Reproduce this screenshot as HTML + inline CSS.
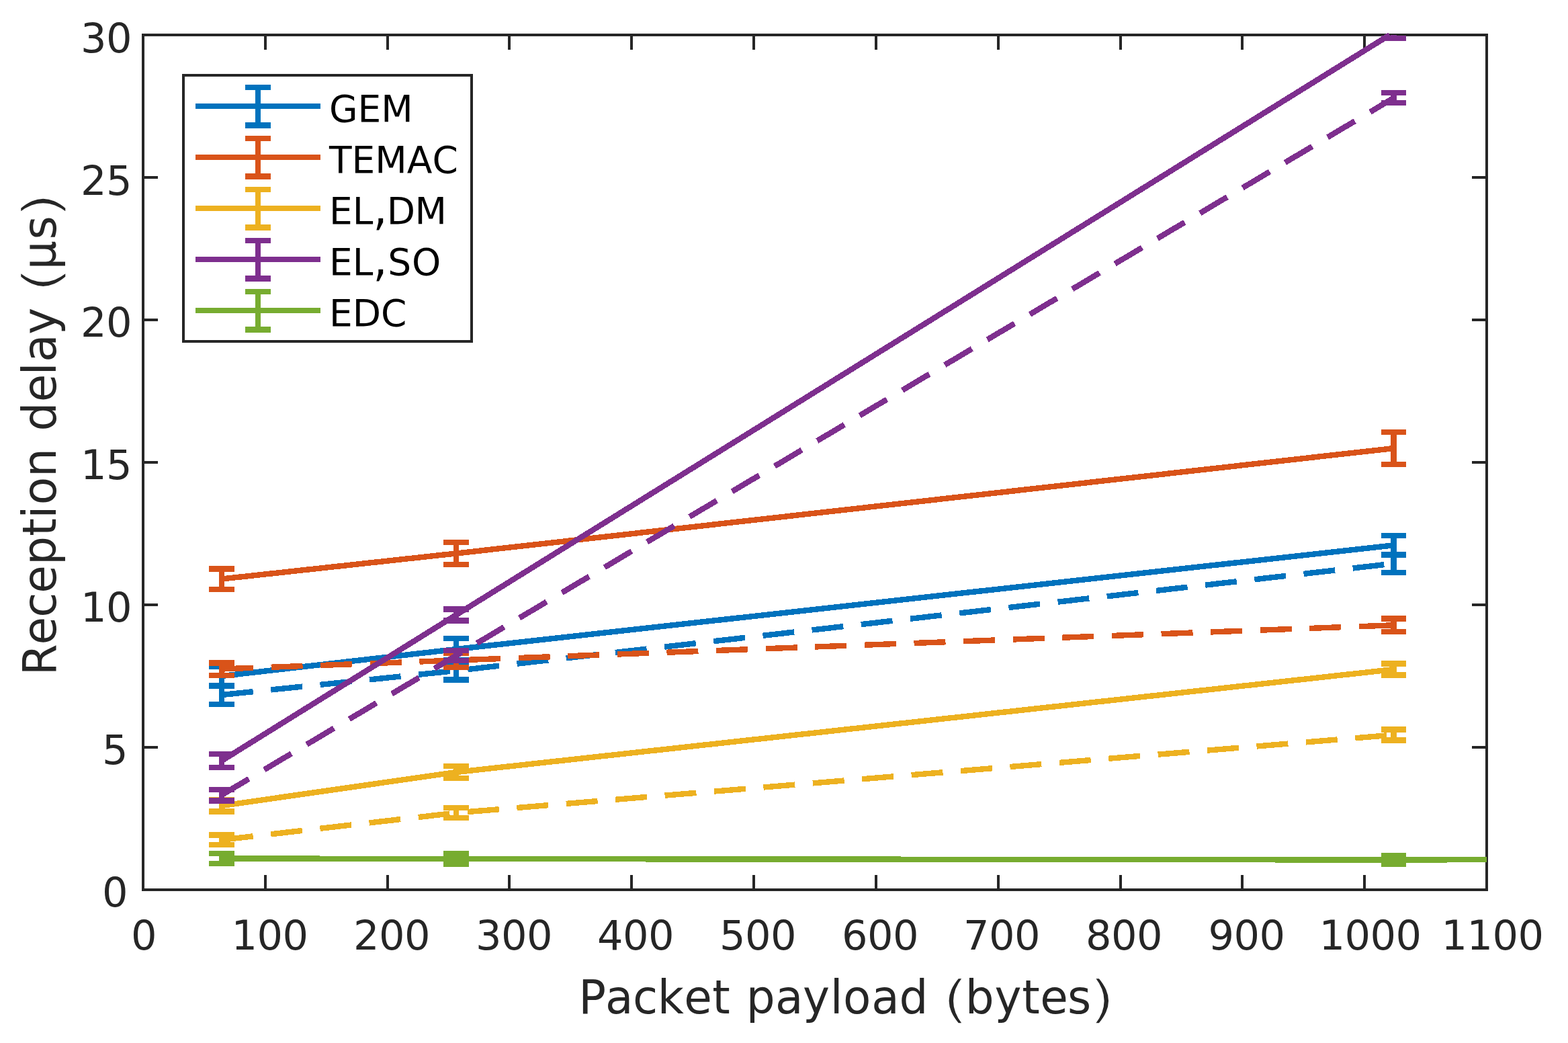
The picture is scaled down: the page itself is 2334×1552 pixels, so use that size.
<!DOCTYPE html>
<html lang="en"><head><meta charset="utf-8"><title>Reception delay vs packet payload</title>
<style>html,body{margin:0;padding:0;background:#fff}body{width:2334px;height:1552px;overflow:hidden}svg{display:block}text{font-family:'DejaVu Sans','Liberation Sans',sans-serif;font-kerning:none;font-variant-ligatures:none;white-space:pre}.t{fill:#262626}.l{fill:#262626}.g{fill:#000}</style>
</head><body>
<svg width="2334" height="1552" viewBox="0 0 2334 1552">
<rect x="0" y="0" width="2334" height="1552" fill="#fff"/>
<g shape-rendering="crispEdges" fill="#262626">
<rect x="211" y="50" width="2004" height="4"/>
<rect x="211" y="1322" width="2004" height="4"/>
<rect x="211" y="50" width="4" height="1276"/>
<rect x="2211" y="50" width="4" height="1276"/>
<rect x="393" y="1302" width="4" height="22"/>
<rect x="393" y="52" width="4" height="22"/>
<rect x="575" y="1302" width="4" height="22"/>
<rect x="575" y="52" width="4" height="22"/>
<rect x="756" y="1302" width="4" height="22"/>
<rect x="756" y="52" width="4" height="22"/>
<rect x="938" y="1302" width="4" height="22"/>
<rect x="938" y="52" width="4" height="22"/>
<rect x="1120" y="1302" width="4" height="22"/>
<rect x="1120" y="52" width="4" height="22"/>
<rect x="1302" y="1302" width="4" height="22"/>
<rect x="1302" y="52" width="4" height="22"/>
<rect x="1484" y="1302" width="4" height="22"/>
<rect x="1484" y="52" width="4" height="22"/>
<rect x="1666" y="1302" width="4" height="22"/>
<rect x="1666" y="52" width="4" height="22"/>
<rect x="1847" y="1302" width="4" height="22"/>
<rect x="1847" y="52" width="4" height="22"/>
<rect x="2029" y="1302" width="4" height="22"/>
<rect x="2029" y="52" width="4" height="22"/>
<rect x="213" y="1110" width="22" height="4"/>
<rect x="2191" y="1110" width="22" height="4"/>
<rect x="213" y="898" width="22" height="4"/>
<rect x="2191" y="898" width="22" height="4"/>
<rect x="213" y="686" width="22" height="4"/>
<rect x="2191" y="686" width="22" height="4"/>
<rect x="213" y="474" width="22" height="4"/>
<rect x="2191" y="474" width="22" height="4"/>
<rect x="213" y="262" width="22" height="4"/>
<rect x="2191" y="262" width="22" height="4"/>
</g>
<defs><clipPath id="ax"><rect x="213" y="52" width="2000" height="1272"/></clipPath></defs>
<g shape-rendering="crispEdges">
<polyline points="330,1006 679,966 2075,811.3" fill="none" stroke="#0072BD" stroke-width="8.4" stroke-linejoin="miter"/>
<g fill="#0072BD" clip-path="url(#ax)">
<rect x="311" y="987" width="38" height="9"/>
<rect x="311" y="1017" width="38" height="8"/>
<rect x="326" y="987" width="8" height="38"/>
<rect x="660" y="946" width="38" height="8"/>
<rect x="660" y="978" width="38" height="8"/>
<rect x="675" y="946" width="8" height="40"/>
<rect x="2056" y="793" width="37" height="8"/>
<rect x="2056" y="821" width="37" height="8"/>
<rect x="2070" y="793" width="9" height="36"/>
</g>
<polyline points="330,1034 679,998 2075,838.5" fill="none" stroke="#0072BD" stroke-width="8.4" stroke-linejoin="miter" stroke-dasharray="47 26.66"/>
<g fill="#0072BD" clip-path="url(#ax)">
<rect x="311" y="1016" width="38" height="9"/>
<rect x="311" y="1044" width="38" height="8"/>
<rect x="326" y="1016" width="8" height="36"/>
<rect x="660" y="980" width="38" height="9"/>
<rect x="660" y="1007" width="38" height="9"/>
<rect x="675" y="980" width="8" height="36"/>
<rect x="2056" y="822" width="37" height="8"/>
<rect x="2056" y="848" width="37" height="8"/>
<rect x="2070" y="822" width="9" height="34"/>
</g>
<polyline points="330,861.5 679,823.5 2075,667" fill="none" stroke="#D95319" stroke-width="8.4" stroke-linejoin="miter"/>
<g fill="#D95319" clip-path="url(#ax)">
<rect x="311" y="842" width="38" height="9"/>
<rect x="311" y="873" width="38" height="8"/>
<rect x="326" y="842" width="8" height="39"/>
<rect x="660" y="803" width="38" height="8"/>
<rect x="660" y="836" width="38" height="8"/>
<rect x="675" y="803" width="8" height="41"/>
<rect x="2056" y="639" width="37" height="8"/>
<rect x="2056" y="687" width="37" height="8"/>
<rect x="2070" y="639" width="9" height="56"/>
</g>
<polyline points="330,995.5 679,982.5 2075,930.25" fill="none" stroke="#D95319" stroke-width="8.4" stroke-linejoin="miter" stroke-dasharray="47 26.66"/>
<g fill="#D95319" clip-path="url(#ax)">
<rect x="311" y="982" width="38" height="9"/>
<rect x="311" y="1001" width="38" height="8"/>
<rect x="326" y="982" width="8" height="27"/>
<rect x="660" y="968" width="38" height="8"/>
<rect x="660" y="989" width="38" height="8"/>
<rect x="675" y="968" width="8" height="29"/>
<rect x="2056" y="916" width="37" height="9"/>
<rect x="2056" y="936" width="37" height="8"/>
<rect x="2070" y="916" width="9" height="28"/>
</g>
<polyline points="330,1199 679,1149 2075,996" fill="none" stroke="#EDB120" stroke-width="8.4" stroke-linejoin="miter"/>
<g fill="#EDB120" clip-path="url(#ax)">
<rect x="311" y="1186" width="38" height="9"/>
<rect x="311" y="1203" width="38" height="9"/>
<rect x="326" y="1186" width="8" height="26"/>
<rect x="660" y="1136" width="38" height="8"/>
<rect x="660" y="1154" width="38" height="8"/>
<rect x="675" y="1136" width="8" height="26"/>
<rect x="2056" y="983" width="37" height="9"/>
<rect x="2056" y="1000" width="37" height="9"/>
<rect x="2070" y="983" width="9" height="26"/>
</g>
<polyline points="330,1249.75 679,1209.5 2075,1093.5" fill="none" stroke="#EDB120" stroke-width="8.4" stroke-linejoin="miter" stroke-dasharray="47 26.66"/>
<g fill="#EDB120" clip-path="url(#ax)">
<rect x="311" y="1238" width="38" height="9"/>
<rect x="311" y="1253" width="38" height="8"/>
<rect x="326" y="1238" width="8" height="23"/>
<rect x="660" y="1198" width="38" height="8"/>
<rect x="660" y="1213" width="38" height="8"/>
<rect x="675" y="1198" width="8" height="23"/>
<rect x="2056" y="1081" width="37" height="9"/>
<rect x="2056" y="1097" width="37" height="9"/>
<rect x="2070" y="1081" width="9" height="25"/>
</g>
<polyline points="330,1132 679,915 2068.56,52" fill="none" stroke="#7E2F8E" stroke-width="8.4" stroke-linejoin="miter"/>
<g fill="#7E2F8E" clip-path="url(#ax)">
<rect x="311" y="1118" width="38" height="8"/>
<rect x="311" y="1138" width="38" height="8"/>
<rect x="326" y="1118" width="8" height="28"/>
<rect x="660" y="902" width="38" height="9"/>
<rect x="660" y="919" width="38" height="9"/>
<rect x="675" y="902" width="8" height="26"/>
<rect x="2056" y="35" width="37" height="8"/>
<rect x="2056" y="53" width="37" height="8"/>
<rect x="2070" y="35" width="9" height="26"/>
</g>
<polyline points="330,1183 679,975.5 2075,145.5" fill="none" stroke="#7E2F8E" stroke-width="8.4" stroke-linejoin="miter" stroke-dasharray="47 26.66"/>
<g fill="#7E2F8E" clip-path="url(#ax)">
<rect x="311" y="1171" width="38" height="8"/>
<rect x="311" y="1187" width="38" height="9"/>
<rect x="326" y="1171" width="8" height="25"/>
<rect x="660" y="964" width="38" height="8"/>
<rect x="660" y="979" width="38" height="8"/>
<rect x="675" y="964" width="8" height="23"/>
<rect x="2056" y="134" width="37" height="8"/>
<rect x="2056" y="149" width="37" height="8"/>
<rect x="2070" y="134" width="9" height="23"/>
</g>
<polyline points="330,1277.5 679,1278 2075,1279.5 2213,1279.17" fill="none" stroke="#77AC30" stroke-width="8.4" stroke-linejoin="miter"/>
<g fill="#77AC30" clip-path="url(#ax)">
<rect x="311" y="1266" width="38" height="8"/>
<rect x="311" y="1281" width="38" height="8"/>
<rect x="326" y="1266" width="8" height="23"/>
<rect x="660" y="1266" width="38" height="8"/>
<rect x="660" y="1282" width="38" height="8"/>
<rect x="675" y="1266" width="8" height="24"/>
<rect x="2056" y="1269" width="37" height="8"/>
<rect x="2056" y="1282" width="37" height="8"/>
<rect x="2070" y="1269" width="9" height="21"/>
</g>
</g>
<g shape-rendering="crispEdges">
<rect x="273" y="112" width="429" height="396" fill="#fff" stroke="#262626" stroke-width="4"/>
<g fill="#0072BD">
<rect x="291" y="154" width="186" height="8"/>
<rect x="365" y="126" width="38" height="8"/>
<rect x="365" y="182" width="38" height="9"/>
<rect x="380" y="126" width="8" height="65"/>
</g>
<g fill="#D95319">
<rect x="291" y="230" width="186" height="8"/>
<rect x="365" y="202" width="38" height="8"/>
<rect x="365" y="258" width="38" height="9"/>
<rect x="380" y="202" width="8" height="65"/>
</g>
<g fill="#EDB120">
<rect x="291" y="306" width="186" height="8"/>
<rect x="365" y="278" width="38" height="8"/>
<rect x="365" y="334" width="38" height="9"/>
<rect x="380" y="278" width="8" height="65"/>
</g>
<g fill="#7E2F8E">
<rect x="291" y="382" width="186" height="8"/>
<rect x="365" y="354" width="38" height="8"/>
<rect x="365" y="410" width="38" height="9"/>
<rect x="380" y="354" width="8" height="65"/>
</g>
<g fill="#77AC30">
<rect x="291" y="458" width="186" height="8"/>
<rect x="365" y="430" width="38" height="8"/>
<rect x="365" y="486" width="38" height="9"/>
<rect x="380" y="430" width="8" height="65"/>
</g>
</g>
<text class="g" style="font-size:55px" transform="matrix(1 0 0 1 490 181)"><tspan x="0 42.62 77.37" y="0">GEM</tspan></text>
<text class="g" style="font-size:55px" transform="matrix(1 0 0 1 490 257)"><tspan x="0 33.6 68.35 115.8 153.43" y="0">TEMAC</tspan></text>
<text class="g" style="font-size:55px" transform="matrix(1 0 0 1 490 333)"><tspan x="0 34.75" y="0">EL</tspan><tspan x="63.53" y="1.4" style="font-size:78.7px;stroke:#fff;stroke-width:1.2px">,</tspan><tspan x="85.78 127.43" y="0">DM</tspan></text>
<text class="g" style="font-size:55px" transform="matrix(1 0 0 1 490 409)"><tspan x="0 34.75" y="0">EL</tspan><tspan x="63.53" y="1.4" style="font-size:78.7px;stroke:#fff;stroke-width:1.2px">,</tspan><tspan x="87.18 122.89" y="0">SO</tspan></text>
<text class="g" style="font-size:55px" transform="matrix(1 0 0 1 490 485)"><tspan x="0 34.75 77.1" y="0">EDC</tspan></text>
<text class="t" style="font-size:60.6px" transform="matrix(1 0 0 1 194.9 1413)"><tspan x="0" y="0">0</tspan></text>
<text class="t" style="font-size:60.6px" transform="matrix(1 0 0 1 344.6 1413)"><tspan x="0 38 76" y="0">100</tspan></text>
<text class="t" style="font-size:60.6px" transform="matrix(1 0 0 1 526 1413)"><tspan x="0 38 76" y="0">200</tspan></text>
<text class="t" style="font-size:60.6px" transform="matrix(1 0 0 1 707.9 1413)"><tspan x="0 38 76" y="0">300</tspan></text>
<text class="t" style="font-size:60.6px" transform="matrix(1 0 0 1 888.9 1413)"><tspan x="0 38 76" y="0">400</tspan></text>
<text class="t" style="font-size:60.6px" transform="matrix(1 0 0 1 1070.9 1413)"><tspan x="0 38 76" y="0">500</tspan></text>
<text class="t" style="font-size:60.6px" transform="matrix(1 0 0 1 1252.9 1413)"><tspan x="0 38 76" y="0">600</tspan></text>
<text class="t" style="font-size:60.6px" transform="matrix(1 0 0 1 1433.9 1413)"><tspan x="0 38 76" y="0">700</tspan></text>
<text class="t" style="font-size:60.6px" transform="matrix(1 0 0 1 1616 1413)"><tspan x="0 38 76" y="0">800</tspan></text>
<text class="t" style="font-size:60.6px" transform="matrix(1 0 0 1 1798.5 1413)"><tspan x="0 38 76" y="0">900</tspan></text>
<text class="t" style="font-size:60.6px" transform="matrix(1 0 0 1 1963.5 1413)"><tspan x="0 38 76 114" y="0">1000</tspan></text>
<text class="t" style="font-size:60.6px" transform="matrix(1 0 0 1 2145.4 1413)"><tspan x="0 38 76 114" y="0">1100</tspan></text>
<text class="t" style="font-size:60.6px" transform="matrix(1 0 0 1 120 78)"><tspan x="0 38" y="0">30</tspan></text>
<text class="t" style="font-size:60.6px" transform="matrix(1 0 0 1 120 290)"><tspan x="0 38" y="0">25</tspan></text>
<text class="t" style="font-size:60.6px" transform="matrix(1 0 0 1 120 501)"><tspan x="0 38" y="0">20</tspan></text>
<text class="t" style="font-size:60.6px" transform="matrix(1 0 0 1 120 713)"><tspan x="0 38" y="0">15</tspan></text>
<text class="t" style="font-size:60.6px" transform="matrix(1 0 0 1 120 925)"><tspan x="0 38" y="0">10</tspan></text>
<text class="t" style="font-size:60.6px" transform="matrix(1 0 0 1 152 1137)"><tspan x="0" y="0">5</tspan></text>
<text class="t" style="font-size:60.6px" transform="matrix(1 0 0 1 152 1349)"><tspan x="0" y="0">0</tspan></text>
<text class="l" style="font-size:69px" transform="matrix(0.98 0 0 1 861.36 1507.8)"><tspan x="0 40.45 82.35 119.89 160.11 202.98 230.03 254.59 298.55 340.53 382 401.64 444.77 486.84 530.64" y="0">Packet payload </tspan><tspan x="552.04" y="5.15" style="font-size:77px;stroke:#fff;stroke-width:2.4px" textLength="40.46" lengthAdjust="spacingAndGlyphs">(</tspan><tspan x="587.04 631.76 673.29 700.82 742.62" y="0">bytes</tspan><tspan x="774.79" y="5.15" style="font-size:77px;stroke:#fff;stroke-width:2.4px" textLength="40.46" lengthAdjust="spacingAndGlyphs">)</tspan></text>
<text class="l" style="font-size:69px" transform="matrix(0 -0.98 1 0 83 1005.34)"><tspan x="0 46.84 88.37 125.21 167.65 211.76 238.74 259.19 301.42 345.16 371.33 415.31 456.19 476 517.88 558.71" y="0">Reception delay </tspan><tspan x="580.72" y="5.15" style="font-size:77px;stroke:#fff;stroke-width:2.4px" textLength="40.46" lengthAdjust="spacingAndGlyphs">(</tspan><tspan x="616.32 662.01" y="0">µs</tspan><tspan x="694.28" y="5.15" style="font-size:77px;stroke:#fff;stroke-width:2.4px" textLength="40.46" lengthAdjust="spacingAndGlyphs">)</tspan></text>
</svg>
</body></html>
